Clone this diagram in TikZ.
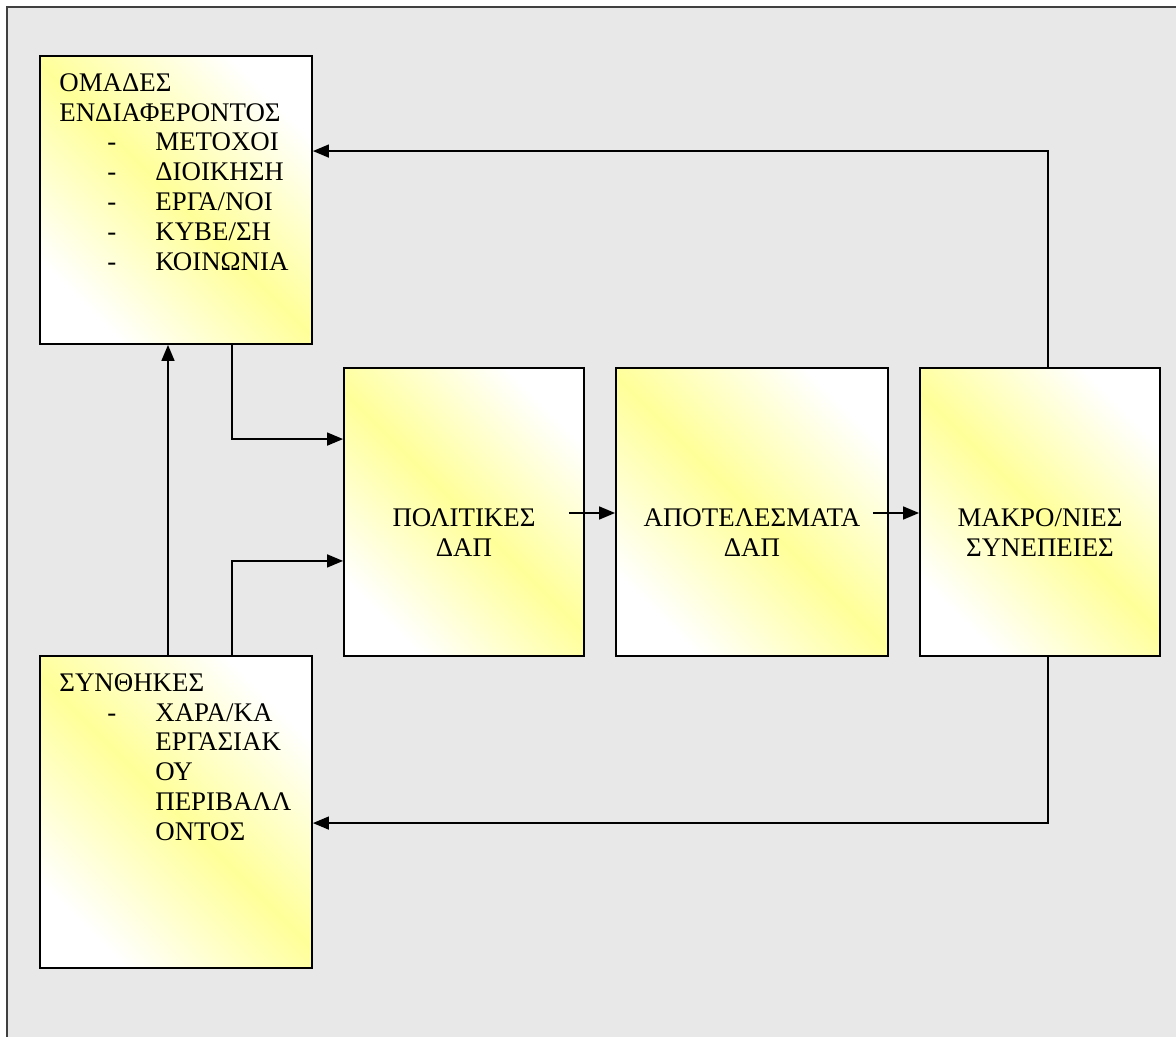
\documentclass[tikz,border=0pt]{standalone}
\usepackage{fontspec}
\setmainfont{Liberation Serif}
\usetikzlibrary{arrows.meta}
\definecolor{boxyellow}{RGB}{255,255,153}
\definecolor{bggray}{RGB}{232,232,232}
\definecolor{framegray}{RGB}{64,64,64}
\newcommand{\listitem}[1]{\hspace*{0.96cm}\makebox[0.96cm][l]{-}#1}
\newcommand{\listcont}[1]{\hspace*{1.92cm}#1}
\begin{document}
\begin{tikzpicture}[x=0.02cm, y=-0.02cm, >={Triangle[length=0.32cm, width=0.26cm]},
    box/.style={draw, line width=1.1pt, left color=white, right color=white, middle color=boxyellow, shading angle=-45, inner sep=0pt},
    boxtext/.style={font=\fontsize{15.3pt}{17pt}\selectfont, inner sep=0pt},
    flow/.style={->, line width=0.9pt}]
    \useasboundingbox (0,0) rectangle (1176,1037);
    \fill[bggray] (7,7) rectangle (1176,1037);
    \draw[framegray, line width=1.1pt] (7,1037) -- (7,7) -- (1176,7);
    % boxes
    \node[box, minimum width=5.44cm, minimum height=5.76cm] (omades) at (176,200) {};
    \node[box, minimum width=4.8cm, minimum height=5.76cm] (politikes) at (464,512) {};
    \node[box, minimum width=5.44cm, minimum height=5.76cm] (apotel) at (752,512) {};
    \node[box, minimum width=4.8cm, minimum height=5.76cm] (makro) at (1040,512) {};
    \node[box, minimum width=5.44cm, minimum height=6.24cm] (synthikes) at (176,812) {};
    % texts
    \node[boxtext, anchor=north west, align=left] (omadestxt) at ([shift={(20,18)}]omades.north west)
        {ΟΜΑΔΕΣ\\ ΕΝΔΙΑΦΕΡΟΝΤΟΣ\\ \listitem{ΜΕΤΟΧΟΙ}\\ \listitem{ΔΙΟΙΚΗΣΗ}\\ \listitem{ΕΡΓΑ/ΝΟΙ}\\ \listitem{ΚΥΒΕ/ΣΗ}\\ \listitem{ΚΟΙΝΩΝΙΑ}};
    \node[boxtext, anchor=north west, align=left] (synthtxt) at ([shift={(20,18)}]synthikes.north west)
        {ΣΥΝΘΗΚΕΣ\\ \listitem{ΧΑΡΑ/ΚΑ}\\ \listcont{ΕΡΓΑΣΙΑΚ}\\ \listcont{ΟΥ}\\ \listcont{ΠΕΡΙΒΑΛΛ}\\ \listcont{ΟΝΤΟΣ}};
    \node[boxtext, align=center] (politxt) at ([shift={(0,21)}]politikes.center) {ΠΟΛΙΤΙΚΕΣ\\ ΔΑΠ};
    \node[boxtext, align=center] (apoteltxt) at ([shift={(0,21)}]apotel.center) {ΑΠΟΤΕΛΕΣΜΑΤΑ\\ ΔΑΠ};
    \node[boxtext, align=center] (makrotxt) at ([shift={(0,21)}]makro.center) {ΜΑΚΡΟ/ΝΙΕΣ\\ ΣΥΝΕΠΕΙΕΣ};
    % connectors
    \foreach \a/\b in {politikes/apotel, apotel/makro} {
        \draw[flow] ([shift={(-16,1)}]\a.east) -- ([shift={(0,1)}]\b.west);
    }
    \draw[flow] ([shift={(8,0)}]makro.north) |- ([shift={(0,96)}]omades.north east);
    \draw[flow] ([shift={(8,0)}]makro.south) |- ([shift={(0,168)}]synthikes.north east);
    \draw[flow] ([shift={(56,0)}]omades.south) |- ([shift={(0,72)}]politikes.north west);
    \draw[flow] ([shift={(56,0)}]synthikes.north) |- ([shift={(0,-96)}]politikes.south west);
    \draw[flow] ([shift={(-8,0)}]synthikes.north) -- ([shift={(-8,0)}]omades.south);
\end{tikzpicture}
\end{document}
